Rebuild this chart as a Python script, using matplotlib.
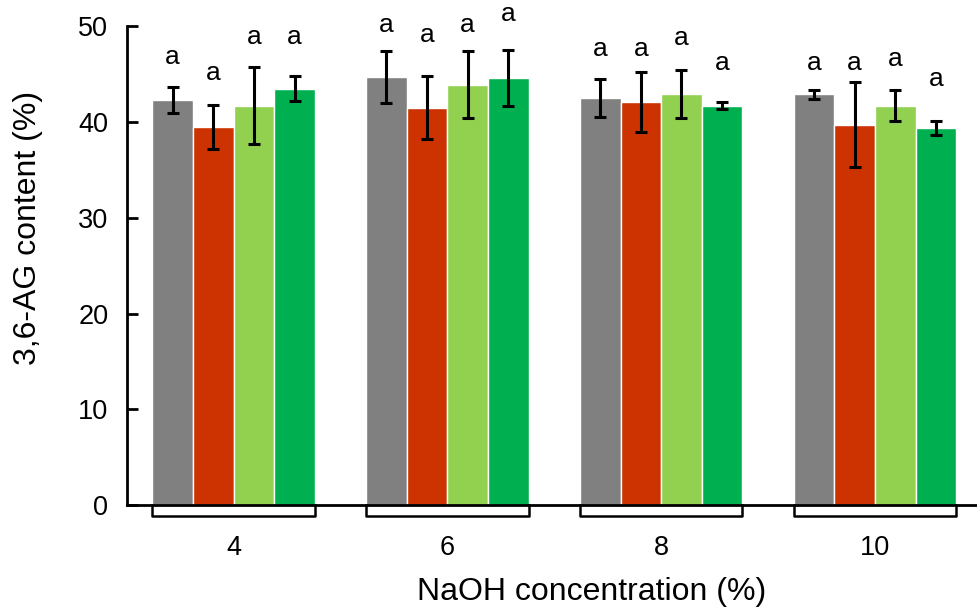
import numpy as np
import matplotlib.pyplot as plt

plt.rcParams['font.family'] = ['Liberation Sans', 'DejaVu Sans']

# NaOH concentrations and the four treatments in each group
concentrations = ['4', '6', '8', '10']
colors = ['#808080', '#CC3300', '#92D050', '#00B050']

# 3,6-AG content (%) per treatment, one value per concentration
gray_vals = [42.3, 44.7, 42.5, 42.9]
red_vals = [39.5, 41.5, 42.1, 39.7]
lightgreen_vals = [41.7, 43.9, 42.9, 41.7]
green_vals = [43.5, 44.6, 41.7, 39.4]

gray_err = [1.4, 2.7, 1.95, 0.45]
red_err = [2.3, 3.3, 3.1, 4.45]
lightgreen_err = [4.0, 3.5, 2.5, 1.6]
green_err = [1.35, 2.9, 0.35, 0.75]

# significance letters and the height they sit at
letters = ['a', 'a', 'a', 'a']
gray_letter_y = [46.8, 50.1, 47.6, 46.2]
red_letter_y = [45.1, 49.1, 47.6, 46.2]
lightgreen_letter_y = [48.9, 50.1, 48.8, 46.6]
green_letter_y = [48.9, 51.3, 46.2, 44.5]

values = [gray_vals, red_vals, lightgreen_vals, green_vals]
errors = [gray_err, red_err, lightgreen_err, green_err]
letter_y = [gray_letter_y, red_letter_y, lightgreen_letter_y, green_letter_y]

fig = plt.figure(figsize=(9.78, 6.11), dpi=100)
ax = fig.add_axes([0.130, 0.1735, 0.870, 0.7835])

x = np.arange(len(concentrations))
width = 0.19
offsets = (np.arange(4) - 1.5) * width

for i in range(4):
    ax.bar(x + offsets[i], values[i], width, color=colors[i],
           edgecolor='white', linewidth=1, zorder=2)
    ax.errorbar(x + offsets[i], values[i], yerr=errors[i], fmt='none',
                ecolor='black', elinewidth=2.2, capsize=4.5, capthick=2.2,
                zorder=3)
    for j in range(len(concentrations)):
        ax.text(x[j] + offsets[i], letter_y[i][j], letters[j],
                ha='center', va='center', fontsize=19)

ax.set_xlim(-0.498, 3.482)
ax.set_ylim(0, 50)
ax.set_yticks([0, 10, 20, 30, 40, 50])
ax.tick_params(axis='y', direction='in', length=8, width=2, labelsize=19.5, pad=13.5)
ax.set_xticks([])

for side in ['top', 'right']:
    ax.spines[side].set_visible(False)
ax.spines['left'].set_linewidth(2)
ax.spines['bottom'].set_linewidth(2)

# brackets under each group, with the concentration below
trans = ax.get_xaxis_transform()
for j, lab in enumerate(concentrations):
    x0 = x[j] + offsets[0] - width / 2
    x1 = x[j] + offsets[-1] + width / 2
    ax.plot([x0, x0, x1, x1], [0, -0.023, -0.023, 0], color='black',
            linewidth=1.8, transform=trans, clip_on=False)
    ax.text(x[j], -0.09, lab, ha='center', va='center', fontsize=19.5,
            transform=trans)

ax.set_xlabel('NaOH concentration (%)', fontsize=23)
ax.xaxis.set_label_coords(0.546, -0.150)
ax.set_ylabel('3,6-AG content (%)', fontsize=23)
ax.yaxis.set_label_coords(-0.099, 0.579)

fig.savefig('out.png', dpi=100)
